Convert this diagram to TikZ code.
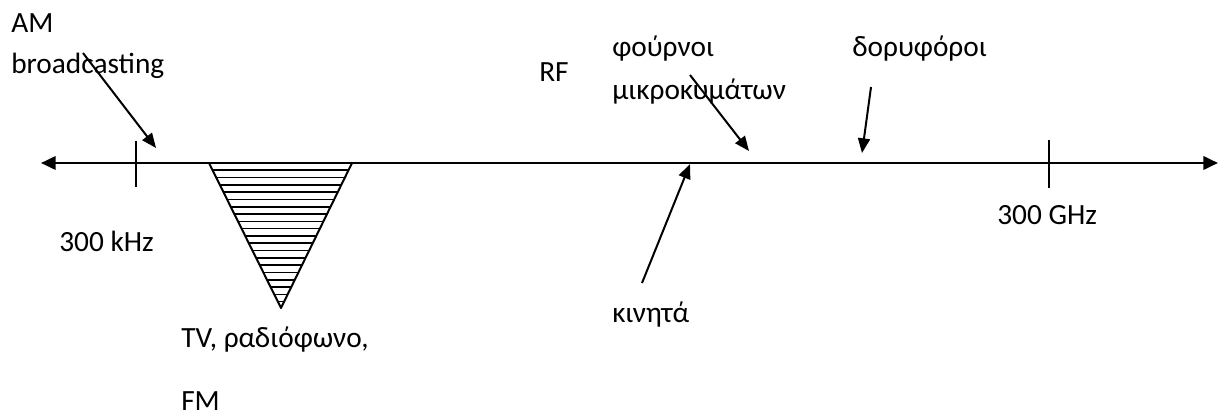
\documentclass[tikz,border=0pt]{standalone}
\usepackage{fontspec}
\setmainfont{Carlito}
\usetikzlibrary{arrows.meta}
\tikzset{
  lbl/.style={anchor=base west, inner sep=0pt, font=\fontsize{22}{26}\selectfont},
  pointer/.style={-{Triangle[length=11pt,width=9pt]}, line width=1.5pt},
  tick/.style={line width=1.5pt}
}
\begin{document}
\begin{tikzpicture}[x=0.75pt, y=-0.75pt]
\useasboundingbox (0,0) rectangle (1223,416);
% axis
\coordinate (axL) at (41,163);
\coordinate (axR) at (1218,163);
\draw[{Triangle[length=11pt,width=10pt]}-{Triangle[length=11pt,width=10pt]}, line width=2pt] (axL) -- (axR);
\draw[tick] (136,141) -- (136,187); % 300 kHz
\draw[tick] (1049,140) -- (1049,188); % 300 GHz
% hatched band
\coordinate (triA) at (209,163);
\coordinate (triB) at (352,163);
\coordinate (triC) at (281,308);
\begin{scope}
\clip (triA) -- (triB) -- (triC) -- cycle;
\foreach \y in {170.3,177.6,...,310}
  \draw[line width=1.2pt] (200,\y) -- (360,\y);
\end{scope}
\draw[line width=1.5pt, line join=round] (triA) -- (triC) -- (triB);
% labels
\node[lbl] (am) at (11,33) {AM};
\node[lbl] (amb) at (11,74) {broadcasting};
\node[lbl] (rf) at (539,82) {RF};
\node[lbl] (oven) at (612,57) {φούρνοι};
\node[lbl] (ovenb) at (612,100) {μικροκυμάτων};
\node[lbl] (sat) at (852,57) {δορυφόροι};
\node[lbl] (khz) at (59,252) {300 kHz};
\node[lbl] (ghz) at (997,225) {300 GHz};
\node[lbl] (mob) at (612,322) {κινητά};
\node[lbl] (tv) at (181,347) {TV, ραδιόφωνο,};
\node[lbl] (fm) at (181,410) {FM};
% pointers
\coordinate (amS) at (83,53);
\coordinate (amT) at (156,148);
\coordinate (ovS) at (690,75);
\coordinate (ovT) at (749,151);
\coordinate (satS) at (871,87);
\coordinate (satT) at (862,153);
\coordinate (mobS) at (642,283);
\coordinate (mobT) at (690,164);
\draw[pointer] (amS) -- (amT);
\draw[pointer] (ovS) -- (ovT);
\draw[pointer] (satS) -- (satT);
\draw[pointer] (mobS) -- (mobT);
\end{tikzpicture}
\end{document}
